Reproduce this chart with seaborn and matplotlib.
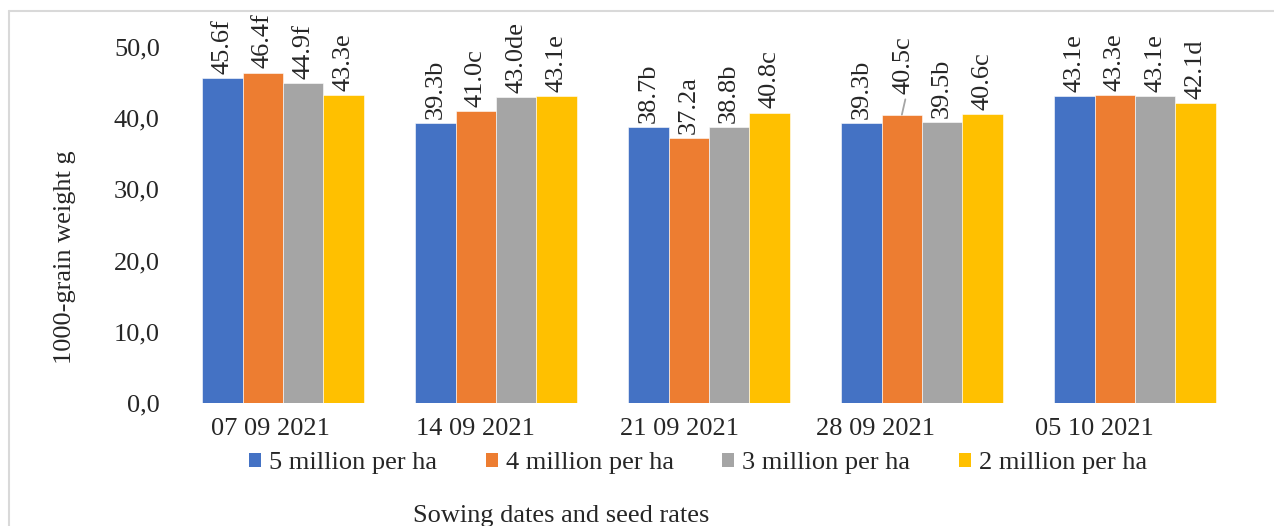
import matplotlib
matplotlib.use("Agg")
import matplotlib.pyplot as plt
import matplotlib.transforms as mtransforms
from matplotlib.lines import Line2D
from matplotlib.patches import Patch
from matplotlib.ticker import FuncFormatter
import seaborn as sns
import pandas as pd

dates = ["07 09 2021", "14 09 2021", "21 09 2021", "28 09 2021", "05 10 2021"]
rates = ["5 million per ha", "4 million per ha", "3 million per ha", "2 million per ha"]

w_5m = [45.6, 39.3, 38.7, 39.3, 43.1]
w_4m = [46.4, 41.0, 37.2, 40.5, 43.3]
w_3m = [44.9, 43.0, 38.8, 39.5, 43.1]
w_2m = [43.3, 43.1, 40.8, 40.6, 42.1]

let_5m = ["f", "b", "b", "b", "e"]
let_4m = ["f", "c", "a", "c", "e"]
let_3m = ["f", "de", "b", "b", "e"]
let_2m = ["e", "e", "c", "c", "d"]

colors = ["#4472C4", "#ED7D31", "#A5A5A5", "#FFC000"]

values = [w_5m, w_4m, w_3m, w_2m]
letters = [let_5m, let_4m, let_3m, let_2m]

rows = []
for rate, vals in zip(rates, values):
    for d, v in zip(dates, vals):
        rows.append({"date": d, "rate": rate, "weight": v})
df = pd.DataFrame(rows)

sns.set_theme(style="white")
plt.rcParams["font.family"] = ["Liberation Serif", "DejaVu Serif"]
FS = 19

fig = plt.figure(figsize=(12.74, 5.26), dpi=100)
ax = fig.add_axes([176.5 / 1274, 1 - 403 / 526, 1065 / 1274, 356 / 526])

sns.barplot(data=df, x="date", y="weight", hue="rate", order=dates,
            hue_order=rates, palette=colors, width=0.756, gap=0,
            edgecolor="white", linewidth=0.4, saturation=1, ax=ax)
ax.get_legend().remove()

ax.set_ylim(0, 50)
ax.set_xlim(-0.5, len(dates) - 0.5)
ax.set_yticks(range(0, 51, 10))
ax.yaxis.set_major_formatter(FuncFormatter(lambda v, p: f"{v:.1f}".replace(".", ",")))
ax.tick_params(axis="y", labelsize=FS, length=0, pad=12)
ax.tick_params(axis="x", labelsize=FS, length=0, pad=11)
for s in ax.spines.values():
    s.set_visible(False)
ax.set_xlabel("")
ax.set_ylabel("1000-grain weight g", fontsize=FS)
ax.yaxis.set_label_coords(-0.094, 0.41)

# x tick labels sit a little left of the group centres in the original
shifts = [-13, -21, -29, -46, -41]
for lab, dx in zip(ax.get_xticklabels(), shifts):
    lab.set_transform(lab.get_transform() + mtransforms.ScaledTranslation(dx / 100, 0, fig.dpi_scale_trans))

# value labels
for cont, vals, lets in zip(ax.containers, values, letters):
    labs = [f"{v:.1f}{l}" for v, l in zip(vals, lets)]
    texts = ax.bar_label(cont, labels=labs, rotation=90, padding=3,
                         fontsize=FS, clip_on=False)
    for bar, t, lab in zip(cont, texts, labs):
        if lab == "40.5c":
            t.set_position((1, 15))
            x = bar.get_x() + bar.get_width() / 2
            y = bar.get_height()
            ax.annotate("", xy=(x, y), xytext=(2.5, 11), textcoords="offset points",
                        arrowprops=dict(arrowstyle="-", color="#A5A5A5", lw=1.3,
                                        shrinkA=0, shrinkB=0))

handles = [Patch(facecolor=c, edgecolor="none") for c in colors]
fig.legend(handles, rates, loc="center", bbox_to_anchor=(698 / 1274, 1 - 463 / 526),
           ncol=4, frameon=False, fontsize=FS, handlelength=0.45, handleheight=0.45,
           handletextpad=0.3, columnspacing=1.85, borderaxespad=0)

fig.text(413 / 1274, 1 - 516 / 526, "Sowing dates and seed rates", fontsize=FS,
         ha="left", va="center")

# chart area border (top and left visible)
fig.add_artist(Line2D([9 / 1274, 1], [1 - 11 / 526, 1 - 11 / 526], color="#D9D9D9", lw=1.5))
fig.add_artist(Line2D([9 / 1274, 9 / 1274], [0, 1 - 11 / 526], color="#D9D9D9", lw=1.5))

fig.savefig("out.png", dpi=100)
